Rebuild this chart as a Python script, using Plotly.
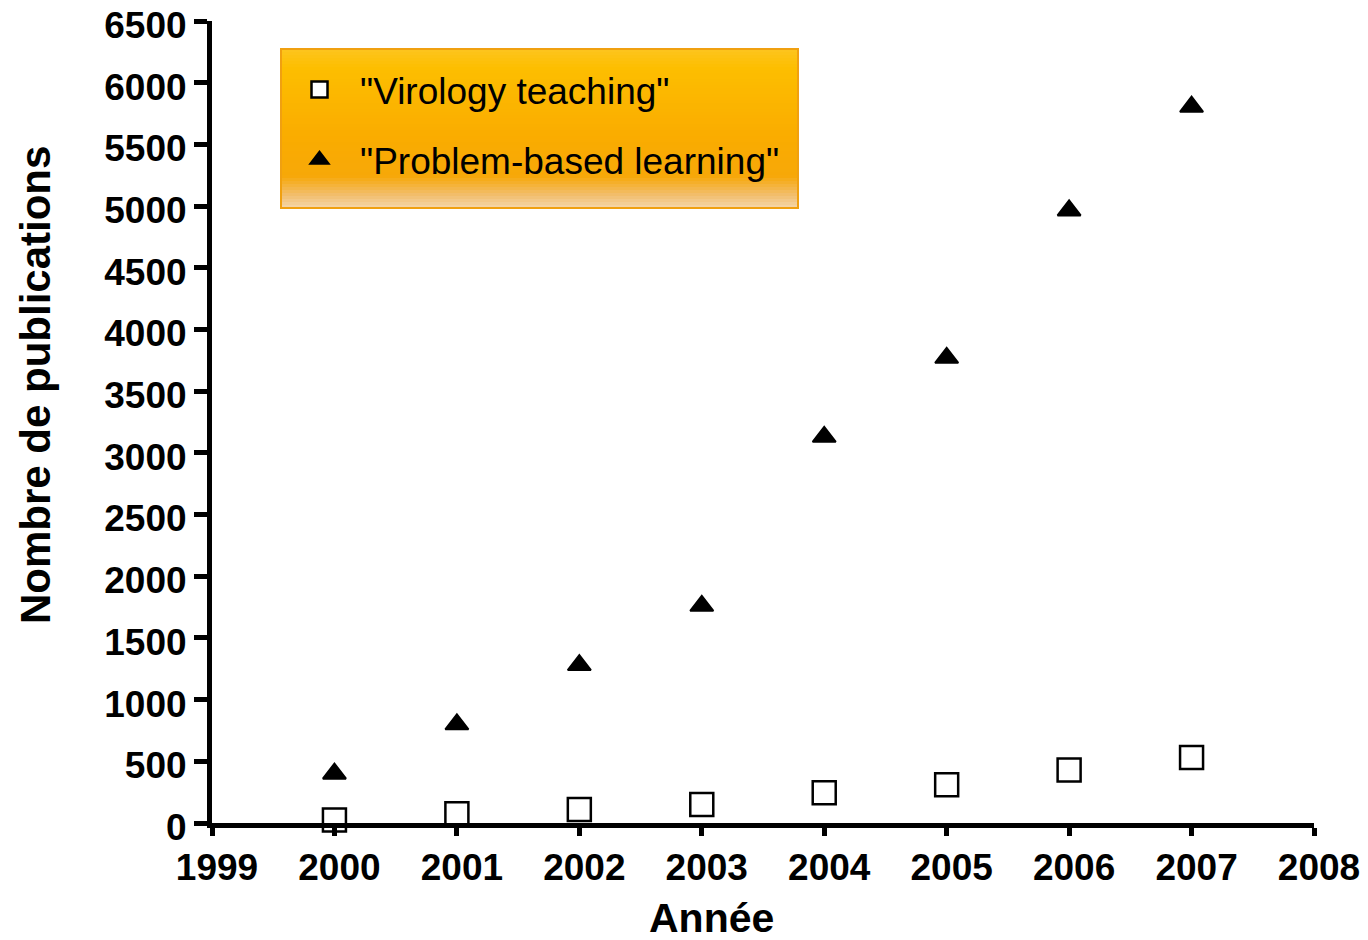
import plotly.graph_objects as go

# ---- data ----
years = [2000, 2001, 2002, 2003, 2004, 2005, 2006, 2007]
virology_teaching = [25, 75, 110, 150, 245, 310, 430, 530]
problem_based_learning = [400, 800, 1280, 1760, 3130, 3770, 4965, 5805]
series_names = ['"Virology teaching"', '"Problem-based learning"']
x_ticks = [1999, 2000, 2001, 2002, 2003, 2004, 2005, 2006, 2007, 2008]
y_ticks = list(range(0, 6501, 500))

# the page body has an 8px margin, so the figure starts at (8, 8) on screen
OFF = 8
W, H = 1368 - OFF, 940 - OFF
L, R, T, B = 212 - OFF, 54, 21 - OFF, 117
PW, PH = W - L - R, H - T - B

def px_x(p):  # screen pixel -> paper
    return (p - OFF - L) / PW

def px_y(p):
    return (H - B - (p - OFF)) / PH

FONT = "Liberation Sans, Arial, Helvetica, sans-serif"

fig = go.Figure()
fig.add_trace(go.Scatter(
    x=years, y=virology_teaching, mode="markers", name=series_names[0],
    legendgroup="a",
    marker=dict(symbol="square", size=23, color="white",
                line=dict(color="black", width=2.5)),
    cliponaxis=False,
))
fig.add_trace(go.Scatter(
    x=years, y=problem_based_learning, mode="markers", name=series_names[1],
    legendgroup="b",
    marker=dict(symbol="triangle-up", size=20, color="black",
                line=dict(color="black", width=2)),
    cliponaxis=False,
))

# legend background: vertical orange gradient made of thin bands
stops = [(0.0, (253, 196, 30)), (0.12, (253, 190, 0)), (0.55, (250, 172, 0)),
         (0.80, (247, 168, 8)), (0.92, (242, 190, 110)), (1.0, (244, 214, 170))]

def col(f):
    for (f0, c0), (f1, c1) in zip(stops[:-1], stops[1:]):
        if f0 <= f <= f1:
            t = (f - f0) / (f1 - f0) if f1 > f0 else 0
            return "rgb(%d,%d,%d)" % tuple(round(a + (b - a) * t) for a, b in zip(c0, c1))
    return "rgb(%d,%d,%d)" % stops[-1][1]

bx0, bx1, by0, by1 = 281, 798, 49, 208
n = 53
band = (by1 - by0) / n
shapes = []
for i in range(n):
    top = by0 + band * i
    bot = min(by1, top + band + 1.0)
    shapes.append(dict(type="rect", xref="paper", yref="paper",
                       x0=px_x(bx0), x1=px_x(bx1),
                       y0=px_y(bot), y1=px_y(top),
                       fillcolor=col((i + 0.5) / n), line=dict(width=0), layer="below"))
shapes.append(dict(type="rect", xref="paper", yref="paper",
                   x0=px_x(bx0), x1=px_x(bx1), y0=px_y(by1), y1=px_y(by0),
                   fillcolor="rgba(0,0,0,0)", line=dict(color="#F0A010", width=2),
                   layer="below"))

fig.update_layout(
    width=W, height=H,
    margin=dict(l=L, r=R, t=T, b=B, pad=0),
    paper_bgcolor="white", plot_bgcolor="white",
    showlegend=True,
    legend=dict(
        x=px_x(bx0 - 2), y=px_y(by0 + 10), xanchor="left", yanchor="top",
        bgcolor="rgba(0,0,0,0)", borderwidth=0,
        font=dict(family=FONT, size=37, color="black"),
        itemwidth=71, tracegroupgap=19, traceorder="grouped",
    ),
    shapes=shapes,
    xaxis=dict(
        range=[1999, 2008], tickvals=x_ticks, ticktext=[str(v) for v in x_ticks],
        showgrid=False, zeroline=False, showline=True, linecolor="black", linewidth=5,
        ticks="outside", ticklen=8, tickwidth=5, tickcolor="black",
        tickfont=dict(family=FONT, size=37, color="black", weight="bold"),
        ticklabelshift=5, automargin=False, ticklabeloverflow="allow",
    ),
    yaxis=dict(
        range=[0, 6500], tickvals=y_ticks, ticktext=[str(v) for v in y_ticks],
        showgrid=False, zeroline=False, showline=True, linecolor="black", linewidth=5,
        ticks="outside", ticklen=13, tickwidth=5, tickcolor="black",
        tickfont=dict(family=FONT, size=37, color="black", weight="bold"),
        ticklabelshift=4, automargin=False, ticklabeloverflow="allow",
    ),
    annotations=[
        dict(text="Année", xref="paper", yref="paper", x=px_x(711), y=px_y(918),
             xanchor="center", yanchor="middle", showarrow=False,
             font=dict(family=FONT, size=41, color="black", weight="bold")),
        dict(text="Nombre de publications", xref="paper", yref="paper",
             x=px_x(35), y=px_y(385), xanchor="center", yanchor="middle",
             textangle=-90, showarrow=False,
             font=dict(family=FONT, size=42, color="black", weight="bold")),
    ],
)

fig.write_html("out.html")
